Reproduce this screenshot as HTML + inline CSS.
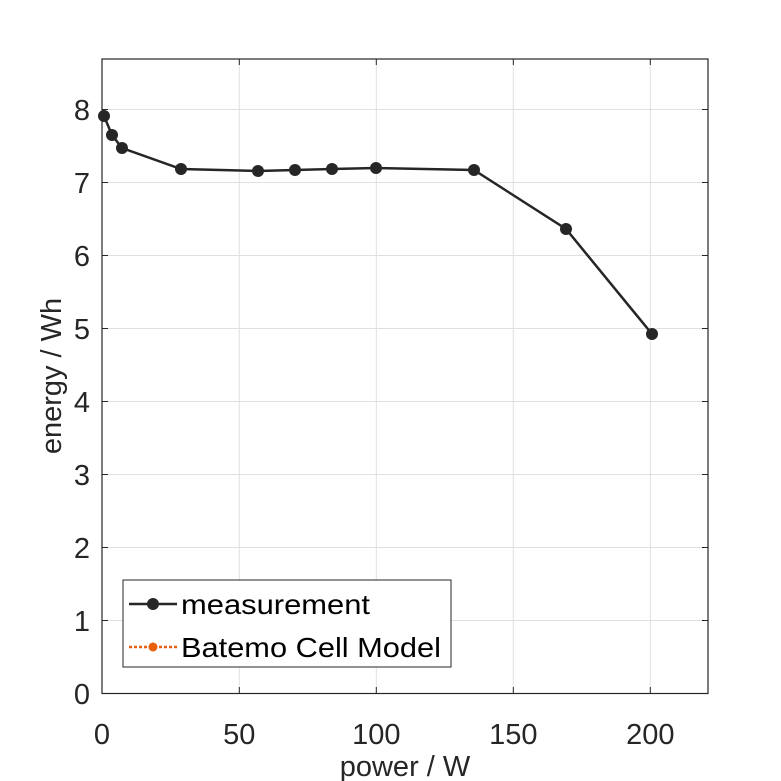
<!DOCTYPE html>
<html><head><style>body{margin:0;background:#fff}svg{display:block}</style></head><body>
<svg width="781" height="781" xmlns="http://www.w3.org/2000/svg" font-family="Liberation Sans, sans-serif">
<rect width="781" height="781" fill="#fff"/>
<g stroke="#e0e0e0" stroke-width="1">
<line x1="239.3" y1="59" x2="239.3" y2="693.5"/><line x1="376.3" y1="59" x2="376.3" y2="693.5"/><line x1="513.3" y1="59" x2="513.3" y2="693.5"/><line x1="650.3" y1="59" x2="650.3" y2="693.5"/>
<line x1="102" y1="620.5" x2="708" y2="620.5"/><line x1="102" y1="547.5" x2="708" y2="547.5"/><line x1="102" y1="474.5" x2="708" y2="474.5"/><line x1="102" y1="401.5" x2="708" y2="401.5"/><line x1="102" y1="328.5" x2="708" y2="328.5"/><line x1="102" y1="255.5" x2="708" y2="255.5"/><line x1="102" y1="182.5" x2="708" y2="182.5"/><line x1="102" y1="109.5" x2="708" y2="109.5"/>
</g>
<rect x="102" y="59" width="606" height="634.5" fill="none" stroke="#262626" stroke-width="1.2"/>
<g stroke="#262626" stroke-width="1">
<line x1="239.3" y1="693" x2="239.3" y2="687"/><line x1="376.3" y1="693" x2="376.3" y2="687"/><line x1="513.3" y1="693" x2="513.3" y2="687"/><line x1="650.3" y1="693" x2="650.3" y2="687"/>
<line x1="239.3" y1="59" x2="239.3" y2="65"/><line x1="376.3" y1="59" x2="376.3" y2="65"/><line x1="513.3" y1="59" x2="513.3" y2="65"/><line x1="650.3" y1="59" x2="650.3" y2="65"/>
<line x1="102" y1="620.5" x2="108" y2="620.5"/><line x1="102" y1="547.5" x2="108" y2="547.5"/><line x1="102" y1="474.5" x2="108" y2="474.5"/><line x1="102" y1="401.5" x2="108" y2="401.5"/><line x1="102" y1="328.5" x2="108" y2="328.5"/><line x1="102" y1="255.5" x2="108" y2="255.5"/><line x1="102" y1="182.5" x2="108" y2="182.5"/><line x1="102" y1="109.5" x2="108" y2="109.5"/>
<line x1="708" y1="620.5" x2="702" y2="620.5"/><line x1="708" y1="547.5" x2="702" y2="547.5"/><line x1="708" y1="474.5" x2="702" y2="474.5"/><line x1="708" y1="401.5" x2="702" y2="401.5"/><line x1="708" y1="328.5" x2="702" y2="328.5"/><line x1="708" y1="255.5" x2="702" y2="255.5"/><line x1="708" y1="182.5" x2="702" y2="182.5"/><line x1="708" y1="109.5" x2="702" y2="109.5"/>
</g>
<g fill="#262626" font-size="29" text-anchor="end">
<text x="90" y="704">0</text><text x="90" y="631">1</text><text x="90" y="558">2</text><text x="90" y="485">3</text><text x="90" y="412">4</text><text x="90" y="339">5</text><text x="90" y="266">6</text><text x="90" y="193">7</text><text x="90" y="120">8</text>
</g>
<g fill="#262626" font-size="29" text-anchor="middle">
<text x="102" y="744">0</text><text x="239.3" y="744">50</text><text x="376.3" y="744">100</text><text x="513.3" y="744">150</text><text x="650.3" y="744">200</text>
<text x="405" y="776">power / W</text>
<text transform="translate(61,376) rotate(-90)">energy / Wh</text>
</g>
<polyline fill="none" stroke="#262626" stroke-width="2.5" points="104,116 112,135 122,148 181,169 258,171 295,170 332,169 376,168 474,170 566,229 652,334"/>
<g fill="#262626">
<circle cx="104" cy="116" r="6"/><circle cx="112" cy="135" r="6"/><circle cx="122" cy="148" r="6"/><circle cx="181" cy="169" r="6"/><circle cx="258" cy="171" r="6"/><circle cx="295" cy="170" r="6"/><circle cx="332" cy="169" r="6"/><circle cx="376" cy="168" r="6"/><circle cx="474" cy="170" r="6"/><circle cx="566" cy="229" r="6"/><circle cx="652" cy="334" r="6"/>
</g>
<rect x="123" y="580" width="328" height="87" fill="#fff" stroke="#262626" stroke-width="1"/>
<line x1="129" y1="604" x2="177" y2="604" stroke="#262626" stroke-width="2.5"/>
<circle cx="153" cy="604" r="6" fill="#262626"/>
<line x1="129" y1="647" x2="177" y2="647" stroke="#e8600a" stroke-width="2.5" stroke-dasharray="3,2"/>
<circle cx="153" cy="647" r="4.5" fill="#e8600a"/>
<text x="181" y="614" font-size="28" fill="#000" textLength="189" lengthAdjust="spacingAndGlyphs">measurement</text>
<text x="181" y="657" font-size="28" fill="#000" textLength="260" lengthAdjust="spacingAndGlyphs">Batemo Cell Model</text>
</svg>
</body></html>
